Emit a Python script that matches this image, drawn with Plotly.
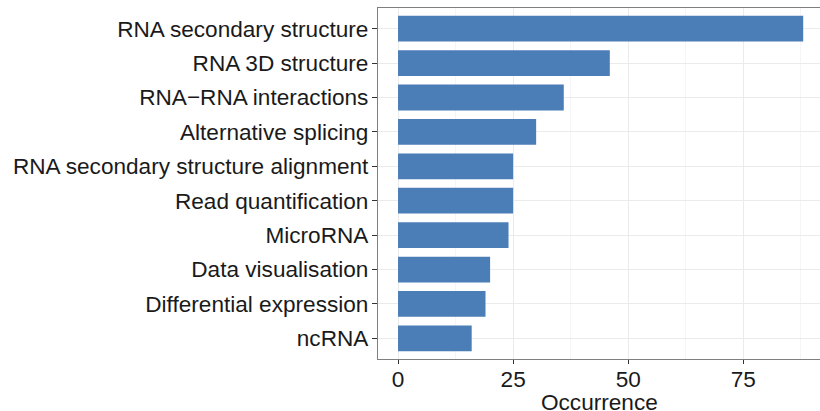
import plotly.graph_objects as go

categories = [
    "RNA secondary structure",
    "RNA 3D structure",
    "RNA\u2212RNA interactions",
    "Alternative splicing",
    "RNA secondary structure alignment",
    "Read quantification",
    "MicroRNA",
    "Data visualisation",
    "Differential expression",
    "ncRNA",
]
occurrence = [88, 46, 36, 30, 25, 25, 24, 20, 19, 16]

x_tickvals = [0, 25, 50, 75]
x_ticktext = ["0", "25", "50", "75"]
x_title = "Occurrence"

cats_rev = categories[::-1]
vals_rev = occurrence[::-1]

fig = go.Figure(go.Bar(
    x=vals_rev,
    y=cats_rev,
    orientation="h",
    marker=dict(color="#4B7DB7", line=dict(width=0)),
    width=0.75,
))

font_family = "Liberation Sans, Arial, Helvetica, sans-serif"
fs = 22.6

fig.update_layout(
    width=820,
    height=411,
    margin=dict(l=378, r=0, t=8, b=52),
    paper_bgcolor="white",
    plot_bgcolor="white",
    showlegend=False,
    font=dict(family=font_family, size=fs, color="#1a1a1a"),
    xaxis=dict(
        range=[-4.35, 91.65],
        tickvals=x_tickvals,
        ticktext=x_ticktext,
        ticks="outside",
        ticklen=4,
        tickwidth=1,
        tickcolor="#333333",
        tickfont=dict(size=fs, color="#1a1a1a"),
        ticklabelstandoff=-4,
        showgrid=True,
        gridcolor="#ebebeb",
        gridwidth=1.2,
        minor=dict(tickvals=[12.5, 37.5, 62.5, 87.5], showgrid=True,
                   gridcolor="#f5f5f5", gridwidth=0.8),
        zeroline=False,
        showline=True,
        linecolor="#7f7f7f",
        linewidth=1.2,
        mirror=True,
        automargin=False,
    ),
    yaxis=dict(
        range=[-0.6, 9.6],
        ticks="outside",
        ticklen=5,
        tickwidth=1.2,
        tickcolor="#333333",
        tickfont=dict(size=fs, color="#1a1a1a"),
        ticklabelstandoff=-1,
        showgrid=True,
        gridcolor="#ebebeb",
        gridwidth=1.2,
        zeroline=False,
        showline=True,
        linecolor="#7f7f7f",
        linewidth=1.2,
        mirror=False,
        automargin=False,
    ),
    annotations=[dict(
        text=x_title,
        xref="paper", yref="paper",
        x=0.5, y=0, xanchor="center", yanchor="middle",
        yshift=-43, showarrow=False, borderpad=0,
        font=dict(size=fs, color="#1a1a1a"),
    )],
)

fig.write_html(
    "out.html",
    config={"displayModeBar": False},
    post_script="document.body.style.margin='0';document.body.style.overflow='hidden';",
)
